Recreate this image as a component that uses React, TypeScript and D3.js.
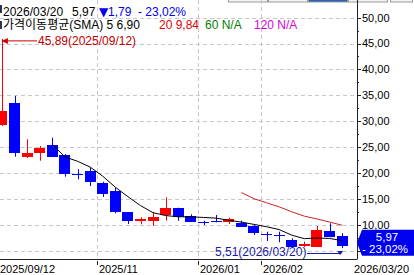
import React from 'react';
import * as d3 from 'd3';

const dates = [
  '2025/09/12', '2025/09/19', '2025/09/26', '2025/10/03', '2025/10/10', '2025/10/17', '2025/10/24',
  '2025/10/31', '2025/11/07', '2025/11/14', '2025/11/21', '2025/11/28', '2025/12/05', '2025/12/12',
  '2025/12/19', '2025/12/26', '2026/01/02', '2026/01/09', '2026/01/16', '2026/01/23', '2026/01/30',
  '2026/02/06', '2026/02/13', '2026/02/20', '2026/02/27', '2026/03/06', '2026/03/13', '2026/03/20',
];
const opens = [29.27, 33.57, 23.15, 23.8, 25.41, 23.47, 19.75, 20.44, 18.13, 16.58, 12.41, 10.73, 10.6, 11.76,
  13.19, 11.7, 10.48, 10.79, 10.48, 10.41, 9.77, 8.22, 8.03, 7.07, 5.77, 5.77, 8.86, 7.84];
const highs = [45.89, 34.86, 26.51, 25.21, 26.81, 23.67, 20.71, 21.1, 18.3, 17.16, 12.45, 11.45, 12.41, 15.31,
  13.3, 12.03, 10.79, 11.89, 11.37, 10.79, 10.15, 8.67, 8.67, 7.39, 6.74, 9.77, 10.29, 8.36];
const lows = [29.1, 23.15, 22.9, 22.37, 23.1, 19.29, 18.78, 17.49, 15.37, 12.22, 10.15, 10.1, 9.77, 10.79,
  10.79, 10.6, 9.96, 10.48, 10.15, 9.6, 8.03, 6.87, 6.62, 5.7, 5.7, 5.77, 7.6, 5.51];
const closes = [31.97, 23.92, 23.92, 24.77, 23.15, 19.75, 19.75, 18.32, 15.95, 12.53, 10.6, 11.12, 11.45, 13.19,
  11.37, 10.6, 10.48, 10.79, 11.12, 9.63, 8.36, 8.22, 8.03, 5.77, 6.24, 9.0, 7.76, 5.97];

const yGridValues = [5, 10, 15, 20, 25, 30, 35, 40, 45, 50];
const yLabelValues = [10, 15, 20, 25, 30, 35, 40, 45, 50];
const yMinorTickValues = [7.5, 12.5, 17.5, 22.5, 27.5, 32.5, 37.5, 42.5, 47.5];
const monthTickDates = ['2025/11/07', '2026/01/02', '2026/02/06'];
const monthTickLabels = ['2025/11', '2026/01', '2026/02'];
const firstDateLabel = '2025/09/12';
const lastDateLabel = '2026/03/20';
const smaPeriods = [5, 20];
const smaColors = ['#000000', '#cc2222'];

const headerLine1 = [
  { text: '2026/03/20', color: '#000000', x: 3 },
  { text: '5,97', color: '#000000', x: 72 },
  { text: '▼', color: '#0000ee', x: 99 },
  { text: '1,79', color: '#0000ee', x: 108 },
  { text: '- 23,02%', color: '#0000ee', x: 138 },
];
const headerLine2 = [
  { text: '가격이동평균(SMA) 5 6,90', color: '#000000', x: 3 },
  { text: '20 9,84', color: '#dd0000', x: 159 },
  { text: '60 N/A', color: '#008000', x: 205 },
  { text: '120 N/A', color: '#dd00dd', x: 254 },
];
const highLabel = '45,89(2025/09/12)';
const lowLabel = '5,51(2026/03/20)';
const tagPrice = '5,97';
const tagChange = '- 23,02%';

const W = 414;
const H = 275;
const AXIS_X = 357;
const AXIS_Y = 259.5;
const FONT = "'Liberation Sans', Arial, 'Noto Sans CJK KR', sans-serif";

function sma(values: number[], n: number) {
  return values.map((_, i) => (i < n - 1 ? null : d3.mean(values.slice(i - n + 1, i + 1)) as number));
}

export default function App() {
  const x = d3.scalePoint<string>().domain(dates).range([1.9, 342.2]);
  const y = d3.scaleLinear().domain([5, 50]).range([250.7, 17.6]);
  const bw = 11;
  const grid = '#c8c8c8';

  const candles = dates.map((d, i) => ({ d, o: opens[i], h: highs[i], l: lows[i], c: closes[i] }));

  const lineGen = d3
    .line<{ d: string; v: number | null }>()
    .defined((p) => p.v != null)
    .x((p) => x(p.d) as number)
    .y((p) => y(p.v as number));

  const hiIdx = d3.maxIndex(highs);
  const loIdx = d3.minIndex(lows);
  const hiX = x(dates[hiIdx]) as number;
  const hiY = y(highs[hiIdx]);
  const loX = x(dates[loIdx]) as number;
  const loY = y(lows[loIdx]);

  const lastY = y(closes[closes.length - 1]);
  const tagMid = lastY - 3;

  return (
    <svg
      width={W}
      height={H}
      style={{ position: 'absolute', left: 0, top: 0, background: '#ffffff', fontFamily: FONT }}
    >
      <rect x={0} y={0} width={W} height={H} fill="#ffffff" />
      {/* top tabs */}
      {[228, 268, 308, 348, 390].map((tx, i) => (
        <rect key={tx} x={tx + 0.5} y={-6} width={i === 4 ? 22 : 39} height={8}
          fill={i === 2 ? '#2f5fb3' : '#f2f2f2'} stroke="#9a9a9a" />
      ))}
      {/* horizontal grid */}
      {yGridValues.map((v) => (
        <line key={'g' + v} x1={0} x2={AXIS_X} y1={Math.round(y(v)) + 0.5} y2={Math.round(y(v)) + 0.5}
          stroke={grid} strokeDasharray="4,3" />
      ))}
      {/* vertical grid */}
      {monthTickDates.map((d) => {
        const gx = Math.round((x(d) as number) - bw / 2) + 0.5;
        return <line key={'v' + d} x1={gx} x2={gx} y1={0} y2={AXIS_Y} stroke={grid} strokeDasharray="4,3" />;
      })}

      {/* header */}
      <rect x={0} y={5} width={2} height={8} fill="#2a3550" />
      <rect x={0} y={21} width={2} height={8} fill="#2a3550" />
      {headerLine1.map((t) => (
        <text key={t.text} x={t.x} y={15.5} fontSize={12} fill={t.color}
          fontFamily={t.text === '▼' ? "'DejaVu Sans', sans-serif" : FONT}>{t.text}</text>
      ))}
      {headerLine2.map((t) => (
        <text key={t.text} x={t.x} y={28.5} fontSize={12} fill={t.color}>{t.text}</text>
      ))}

      {/* candles */}
      {candles.map((k) => {
        const cx = x(k.d) as number;
        const up = k.c > k.o;
        const col = up ? '#ff0000' : '#0000ff';
        const top = y(Math.max(k.o, k.c));
        const bot = y(Math.min(k.o, k.c));
        const wx = Math.round(cx) + 0.5;
        const doji = Math.abs(bot - top) < 1;
        return (
          <g key={k.d}>
            <line x1={wx} x2={wx} y1={y(k.h)} y2={y(k.l)} stroke={col} />
            {doji ? (
              <line x1={Math.round(cx - bw / 2)} x2={Math.round(cx + bw / 2)}
                y1={Math.round(top) + 0.5} y2={Math.round(top) + 0.5} stroke={col} />
            ) : (
              <rect x={Math.round(cx - bw / 2)} y={Math.round(top)} width={bw}
                height={Math.max(2, Math.round(bot - top))} fill={col} />
            )}
          </g>
        );
      })}

      {/* moving averages */}
      {smaPeriods.map((n, i) => {
        const vals = sma(closes, n);
        return (
          <path key={'sma' + n} d={lineGen(dates.map((d, j) => ({ d, v: vals[j] }))) || ''}
            fill="none" stroke={smaColors[i]} strokeWidth={1} />
        );
      })}

      {/* high annotation */}
      <line x1={hiX} x2={37} y1={hiY + 2} y2={hiY + 2} stroke="#cc0000" />
      <path d={`M${hiX},${hiY + 2} L${hiX + 6},${hiY - 1} L${hiX + 6},${hiY + 5} Z`} fill="#cc0000" />
      <text x={38} y={hiY + 6.5} fontSize={12} fill="#c00000">{highLabel}</text>

      {/* low annotation */}
      <text x={215} y={256} fontSize={12} fill="#1a1aa8">{lowLabel}</text>
      <line x1={307} x2={loX - 2} y1={253.5} y2={253.5} stroke="#1a1aa8" />
      <path d={`M${loX + 1},${loY + 3} L${loX - 5},${loY + 3} L${loX - 2},${loY + 7} Z`} fill="#1a1aa8" />

      {/* y axis */}
      <line x1={AXIS_X + 0.5} x2={AXIS_X + 0.5} y1={0} y2={AXIS_Y} stroke="#222" />
      {yGridValues.map((v) => (
        <line key={'t' + v} x1={AXIS_X} x2={AXIS_X + 4} y1={Math.round(y(v)) + 0.5} y2={Math.round(y(v)) + 0.5} stroke="#222" />
      ))}
      {yLabelValues.map((v) => (
        <text key={'l' + v} x={AXIS_X + 5} y={y(v)} dy="0.36em" fontSize={11} fill="#000">
          {d3.format('.2f')(v).replace('.', ',')}
        </text>
      ))}
      {yMinorTickValues.map((v) => (
        <line key={'m' + v} x1={AXIS_X} x2={AXIS_X + 2} y1={Math.round(y(v)) + 0.5} y2={Math.round(y(v)) + 0.5} stroke="#222" />
      ))}

      {/* price tag */}
      <path
        d={`M${AXIS_X},${tagMid} L${AXIS_X + 5},${tagMid - 13} L${W},${tagMid - 13} L${W},${tagMid + 13} L${AXIS_X + 5},${tagMid + 13} Z`}
        fill="#0000f0"
      />
      <text x={387} y={tagMid - 1.5} fontSize={11.5} fill="#ffffff" textAnchor="middle">{tagPrice}</text>
      <text x={385} y={tagMid + 10.5} fontSize={11.5} fill="#ffffff" textAnchor="middle">{tagChange}</text>

      {/* x axis */}
      <line x1={0} x2={AXIS_X} y1={AXIS_Y} y2={AXIS_Y} stroke="#222" />
      <text x={0} y={273} fontSize={11} fill="#000">{firstDateLabel}</text>
      {monthTickDates.map((d, i) => {
        const tx = Math.round((x(d) as number) - bw / 2) + 0.5;
        return (
          <g key={'x' + d}>
            <line x1={tx} x2={tx} y1={261} y2={265} stroke="#222" />
            <text x={tx + 1.5} y={273} fontSize={11} fill="#000">{monthTickLabels[i]}</text>
          </g>
        );
      })}
      <text x={354} y={273} fontSize={11} fill="#000">{lastDateLabel}</text>
    </svg>
  );
}
